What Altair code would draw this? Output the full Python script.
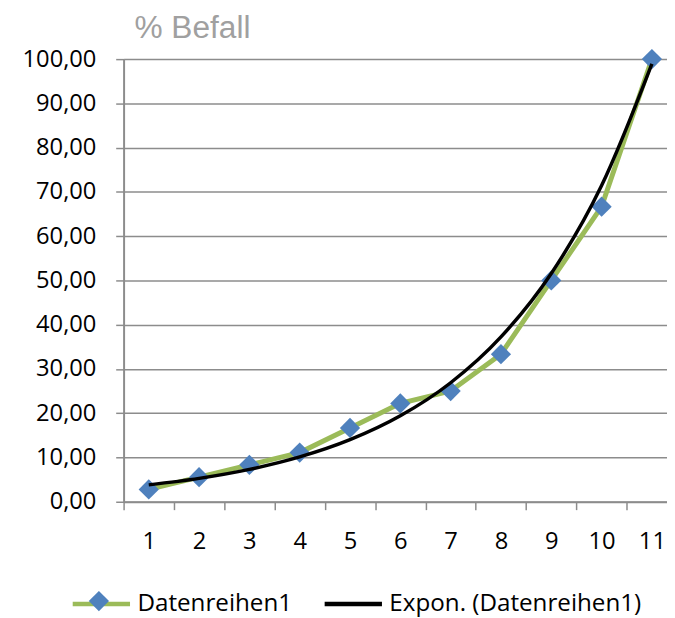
import altair as alt
import pandas as pd

# ---- data ----
categories = [1, 2, 3, 4, 5, 6, 7, 8, 9, 10, 11]
befall = [2.78, 5.56, 8.33, 11.11, 16.67, 22.22, 25.00, 33.33, 50.00, 66.67, 100.00]
series_name = "Datenreihen1"
trend_name = "Expon. (Datenreihen1)"
x_tick_values = [0.5, 1.5, 2.5, 3.5, 4.5, 5.5, 6.5, 7.5, 8.5, 9.5, 10.5]
y_tick_values = [0, 10, 20, 30, 40, 50, 60, 70, 80, 90, 100]

df = pd.DataFrame({"x": categories, "y": befall})

FONT = "Open Sans"
GRID = "#8C8C8C"
GREEN = "#9BBB59"
BLUE = "#4F81BD"

x_scale = alt.Scale(domain=[0.5, 11.3], nice=False, zero=False)
y_scale = alt.Scale(domain=[0, 100], nice=False)

x_axis = alt.Axis(
    values=x_tick_values,
    labelExpr="format(datum.value + 0.5, 'd')",
    labelOffset=25.46,
    labelFlush=False,
    labelOverlap=False,
    grid=False,
    title=None,
    tickSize=8,
    tickWidth=1.5,
    tickColor=GRID,
    domainColor=GRID,
    domainWidth=2,
    labelPadding=20,
    labelFont=FONT,
    labelFontSize=24,
    labelColor="black",
)
y_axis = alt.Axis(
    values=y_tick_values,
    labelExpr="replace(format(datum.value, '.2f'), '.', ',')",
    title=None,
    tickSize=8,
    tickWidth=1.5,
    tickColor=GRID,
    domainColor=GRID,
    domainWidth=2,
    grid=True,
    gridColor=GRID,
    gridWidth=1.5,
    labelPadding=20,
    labelFont=FONT,
    labelFontSize=24,
    labelColor="black",
)

color = alt.Color(
    "series:N",
    scale=alt.Scale(domain=[series_name, trend_name], range=[GREEN, "#000000"]),
    legend=alt.Legend(
        orient="none",
        direction="horizontal",
        legendX=-54,
        legendY=520,
        title=None,
        symbolType="stroke",
        symbolSize=3364,
        symbolStrokeWidth=4.5,
        labelFont=FONT,
        labelFontSize=24.5,
        labelColor="black",
        labelOffset=5,
        labelLimit=400,
        columnPadding=23,
        padding=0,
        symbolOffset=0,
    ),
)

shape = alt.Shape(
    "marker:N",
    scale=alt.Scale(domain=["mk"], range=["diamond"]),
    legend=alt.Legend(
        orient="none",
        legendX=-35.5,
        legendY=538,
        title=None,
        labelExpr="''",
        symbolSize=420,
        symbolFillColor=BLUE,
        symbolStrokeWidth=0,
        symbolOpacity=1,
        padding=0,
        symbolOffset=0,
    ),
)

base = alt.Chart(df)

line = base.transform_calculate(series=f"'{series_name}'").mark_line(
    strokeWidth=5
).encode(
    x=alt.X("x:Q", scale=x_scale, axis=x_axis),
    y=alt.Y("y:Q", scale=y_scale, axis=y_axis),
    color=color,
)

points = base.transform_calculate(marker="'mk'").mark_point(
    filled=True, size=420, opacity=1, color=BLUE, strokeWidth=0
).encode(
    x=alt.X("x:Q", scale=x_scale, axis=x_axis),
    y=alt.Y("y:Q", scale=y_scale, axis=y_axis),
    shape=shape,
)

trend = (
    base.transform_calculate(ly="log(datum.y)")
    .transform_joinaggregate(mx="mean(x)", mly="mean(ly)")
    .transform_calculate(
        sxy="(datum.x - datum.mx) * (datum.ly - datum.mly)",
        sxx="pow(datum.x - datum.mx, 2)",
    )
    .transform_joinaggregate(Sxy="sum(sxy)", Sxx="sum(sxx)")
    .transform_calculate(
        fit="exp(datum.mly + datum.Sxy / datum.Sxx * (datum.x - datum.mx))",
        series=f"'{trend_name}'",
    )
    .mark_line(strokeWidth=3.5, interpolate="monotone")
    .encode(
        x=alt.X("x:Q", scale=x_scale, axis=x_axis),
        y=alt.Y("fit:Q", scale=y_scale, axis=y_axis),
        color=color,
    )
)

chart = (
    alt.layer(line, points, trend)
    .properties(
        width=550,
        height=448,
        padding={"left": 117, "top": 48, "right": 0, "bottom": 120},
        autosize=alt.AutoSizeParams(type="none"),
        title=alt.TitleParams(
            "% Befall",
            anchor="start",
            frame="group",
            font="Liberation Sans",
            fontSize=32,
            fontWeight="normal",
            color="#A0A0A0",
            dx=11,
            dy=2,
        ),
    )
    .configure_view(stroke=None)
)

chart.save("out.html", embed_options={"renderer": "svg", "actions": False})
